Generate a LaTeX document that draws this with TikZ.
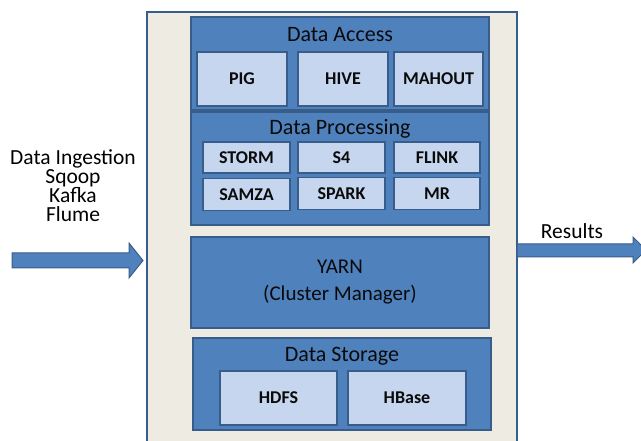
\documentclass[tikz,border=0pt]{standalone}
\usepackage{fontspec}
\setmainfont{Carlito}
\begin{document}
\begin{tikzpicture}[x=1pt,y=-1pt,
  outerbox/.style={draw=bordercol,line width=1.8pt,fill=bgcol,minimum width=370pt,minimum height=433pt,inner sep=0pt},
  panel/.style={draw=bordercol,line width=1.8pt,fill=panelcol,inner sep=0pt},
  cell/.style={draw=bordercol,line width=1.4pt,fill=cellcol,inner sep=0pt,font=\fontsize{18}{20}\selectfont\bfseries,text=txtcol},
  title/.style={font=\fontsize{22}{24}\selectfont,text=txtcol,inner sep=0pt},
  label/.style={font=\fontsize{21.5}{18.5}\selectfont,text=black,inner sep=0pt,align=center},
  blockarrow/.style={draw=bordercol,line width=1pt,fill=panelcol}]
\definecolor{bgcol}{HTML}{EEEBE2}
\definecolor{bordercol}{HTML}{385D8A}
\definecolor{panelcol}{HTML}{4F81BD}
\definecolor{cellcol}{HTML}{C6D6EE}
\definecolor{txtcol}{HTML}{0A0A0A}
\useasboundingbox (0,0) rectangle (641,441);
\node[outerbox] (outer) at (332,228.5) {};
% Data Access
\node[panel,minimum width=298pt,minimum height=93pt] (access) at (340,63.5) {};
\node[title] (accesst) at (340,35) {Data Access};
\node[cell,minimum width=90pt,minimum height=54pt] (pig) at (242,79) {PIG};
\node[cell,minimum width=90pt,minimum height=54pt] (hive) at (343,79) {HIVE};
\node[cell,minimum width=89pt,minimum height=54pt] (mahout) at (438.5,79) {MAHOUT};
% Data Processing
\node[panel,minimum width=298pt,minimum height=113pt] (proc) at (340,168.5) {};
\node[title] (proct) at (340,129) {Data Processing};
\node[cell,minimum width=87pt,minimum height=31pt] (storm) at (246.5,157.5) {STORM};
\node[cell,minimum width=87pt,minimum height=31pt] (s4) at (341.5,157.5) {S4};
\node[cell,minimum width=86pt,minimum height=31pt] (flink) at (437,157.5) {FLINK};
\node[cell,minimum width=87pt,minimum height=32pt] (samza) at (246.5,194.5) {SAMZA};
\node[cell,minimum width=87pt,minimum height=32pt] (spark) at (341.5,193.5) {SPARK};
\node[cell,minimum width=86pt,minimum height=32pt] (mr) at (437,193.5) {MR};
% YARN
\node[panel,minimum width=298pt,minimum height=91pt,title,align=center,font=\fontsize{21}{27}\selectfont] (yarn) at (340,282.5) {YARN\\(Cluster Manager)};
% Data Storage
\node[panel,minimum width=298pt,minimum height=92pt] (storage) at (342,384) {};
\node[title] (storaget) at (342,356) {Data Storage};
\node[cell,minimum width=117pt,minimum height=54pt] (hdfs) at (278.5,398) {HDFS};
\node[cell,minimum width=118pt,minimum height=54pt] (hbase) at (407,398) {HBase};
% Left side
\node[label] (ingest) at (73,185.5) {Data Ingestion\\Sqoop\\Kafka\\Flume};
\draw[blockarrow] (12,253) -- (129,253) -- (129,243) -- (143,260.5) -- (129,278) -- (129,268) -- (12,268) -- cycle;
% Right side
\node[label] (results) at (572,231) {Results};
\draw[blockarrow] (517,244) -- (633,244) -- (633,237) -- (646,250) -- (633,263) -- (633,257) -- (517,257) -- cycle;
\end{tikzpicture}
\end{document}
